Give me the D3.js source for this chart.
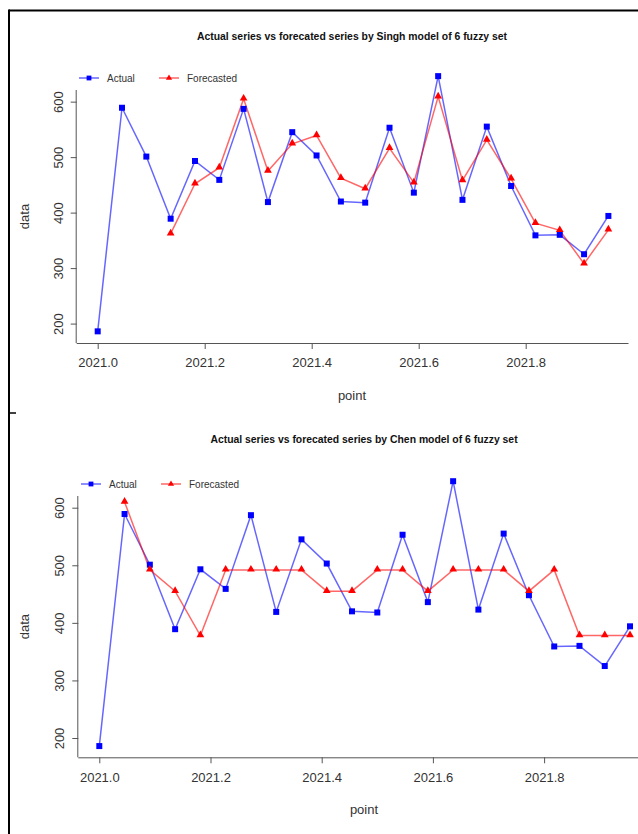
<!DOCTYPE html>
<html>
<head>
<meta charset="utf-8">
<script src="https://cdn.jsdelivr.net/npm/d3@7/dist/d3.min.js"></script>
<style>
  html, body { margin: 0; padding: 0; background: #fff; }
  svg { display: block; font-family: "Liberation Sans", Arial, sans-serif; }
</style>
</head>
<body>
<svg id="chart" width="638" height="834"></svg>
<script>
"use strict";

// monthly-ish series, ts(start = 2021, frequency = 22)
const tsStart = 2021;
const tsFrequency = 22;

const actual = [186, 589, 501, 389, 493, 459, 587, 419, 545, 503, 420,
                418, 553, 436, 646, 423, 555, 448, 359, 360, 325, 394];

// Singh model forecasts (first three points have no forecast)
const singhForecast = [null, null, null, 362, 452, 481, 605, 475, 524, 539, 462,
                       443, 516, 454, 609, 458, 531, 461, 381, 368, 308, 369];

// Chen model forecasts (first point has no forecast)
const chenForecast = [null, 610, 492, 455, 378, 492, 492, 492, 492, 455, 455,
                      492, 492, 455, 492, 492, 492, 455, 492, 378, 378, 378];

const xTicks = [2021.0, 2021.2, 2021.4, 2021.6, 2021.8];
const yTicks = [200, 300, 400, 500, 600];
const legendLabels = ['Actual', 'Forecasted'];

const titles = [
  'Actual series vs forecated series by Singh model of 6 fuzzy set',
  'Actual series vs forecated series by Chen model of 6 fuzzy set'
];

const times = actual.map((_, i) => tsStart + i / tsFrequency);

const svg = d3.select('#chart');

// outer frame bits of the pasted screenshot
svg.append('line').attr('x1', 9).attr('x2', 638).attr('y1', 10.5).attr('y2', 10.5)
   .attr('stroke', '#000').attr('stroke-width', 2);
svg.append('line').attr('x1', 9).attr('x2', 9).attr('y1', 9.5).attr('y2', 834)
   .attr('stroke', '#000').attr('stroke-width', 2);
svg.append('line').attr('x1', 8).attr('x2', 16).attr('y1', 413).attr('y2', 413)
   .attr('stroke', '#000').attr('stroke-width', 1.5);

function drawPanel( p ) {

  const x = d3.scaleLinear()
              .domain([ tsStart, tsStart + 1 ])
              .range([ p.x0, p.x0 + p.unit ]);

  const y = d3.scaleLinear()
              .domain( p.yDomain )
              .range([ p.bottom, p.top ]);

  const g = svg.append('g');

  // title
  g.append('text')
     .attr('x', p.titleX).attr('y', p.titleY)
     .attr('text-anchor', 'middle')
     .attr('font-size', '10.4px').attr('font-weight', 'bold')
     .attr('fill', '#111')
     .text( p.title );

  // x-axis
  const xAxis = d3.axisBottom(x)
                  .tickValues( xTicks )
                  .tickFormat( d3.format('.1f') )
                  .tickSize( 6 ).tickPadding( 9 );
  const gx = g.append('g')
              .attr('transform', 'translate(0,' + p.bottom + ')')
              .call( xAxis );
  gx.select('.domain').attr('d', 'M' + p.left + ',0.5H' + p.right);

  // y-axis
  const yAxis = d3.axisLeft(y)
                  .tickValues( yTicks )
                  .tickSize( 6 ).tickPadding( 9 );
  const gy = g.append('g')
              .attr('transform', 'translate(' + p.left + ',0)')
              .call( yAxis );
  gy.select('.domain').attr('d', 'M-0.5,' + p.top + 'V' + p.bottom);
  gy.selectAll('.tick text')
      .attr('x', null).attr('dy', null)
      .attr('transform', 'translate(-14,0) rotate(-90)')
      .attr('text-anchor', 'middle');

  [gx, gy].forEach( (a) => {
    a.attr('font-family', null).attr('font-size', '13px');
    a.selectAll('path, line').attr('stroke', '#555');
    a.selectAll('text').attr('fill', '#333');
  });

  // axis titles
  g.append('text')
     .attr('x', p.titleX).attr('y', p.bottom + 57)
     .attr('text-anchor', 'middle').attr('font-size', '13px').attr('fill', '#333')
     .text('point');
  g.append('text')
     .attr('transform', 'translate(29,' + ((p.top + p.bottom) / 2) + ') rotate(-90)')
     .attr('text-anchor', 'middle').attr('font-size', '13px').attr('fill', '#333')
     .text('data');

  const line = d3.line()
                 .defined( (d) => d.v !== null )
                 .x( (d) => x( d.t ) )
                 .y( (d) => y( d.v ) );

  const actualPts   = actual.map( (v, i) => ({ t: times[i], v: v }) );
  const forecastPts = p.forecast.map( (v, i) => ({ t: times[i], v: v }) )
                         .filter( (d) => d.v !== null );

  // actual series
  g.append('path')
     .datum( actualPts )
     .attr('d', line)
     .attr('fill', 'none').attr('stroke', 'rgba(0,0,255,0.6)').attr('stroke-width', 1.5);

  // forecast series
  g.append('path')
     .datum( forecastPts )
     .attr('d', line)
     .attr('fill', 'none').attr('stroke', 'rgba(255,0,0,0.6)').attr('stroke-width', 1.5);

  const square   = d3.symbol().type( d3.symbolSquare ).size( 36 );
  const triangle = d3.symbol().type( d3.symbolTriangle ).size( 26 );

  g.selectAll('.sq')
     .data( actualPts )
     .enter().append('path')
       .attr('class', 'sq')
       .attr('transform', (d) => 'translate(' + x(d.t) + ',' + y(d.v) + ')')
       .attr('d', square)
       .attr('fill', '#0000ff');

  g.selectAll('.tri')
     .data( forecastPts )
     .enter().append('path')
       .attr('class', 'tri')
       .attr('transform', (d) => 'translate(' + x(d.t) + ',' + (y(d.v) - 0.5) + ')')
       .attr('d', triangle)
       .attr('fill', '#ff0000');

  // legend
  const lg = g.append('g').attr('transform', 'translate(' + p.legendX + ',' + p.legendY + ')');
  const legendItems = [
    { label: legendLabels[0], color: 'rgba(0,0,255,0.6)', fill: '#0000ff', sym: square,   dx: 0 },
    { label: legendLabels[1], color: 'rgba(255,0,0,0.6)', fill: '#ff0000', sym: triangle, dx: 80 }
  ];
  legendItems.forEach( (it) => {
    lg.append('line')
       .attr('x1', it.dx).attr('x2', it.dx + 20).attr('y1', 0).attr('y2', 0)
       .attr('stroke', it.color).attr('stroke-width', 1.5);
    lg.append('path')
       .attr('transform', 'translate(' + (it.dx + 10) + ',0) scale(0.8)')
       .attr('d', it.sym)
       .attr('fill', it.fill);
    lg.append('text')
       .attr('x', it.dx + 28).attr('y', 3.5)
       .attr('font-size', '10px').attr('fill', '#333')
       .text( it.label );
  });
}

// Singh panel
drawPanel({
  title: titles[0], titleX: 352, titleY: 40,
  forecast: singhForecast,
  x0: 97.7, unit: 535,
  left: 76.7, right: 628.5,
  top: 90, bottom: 343,
  yDomain: [165, 621],
  legendX: 79, legendY: 78
});

// Chen panel
drawPanel({
  title: titles[1], titleX: 364, titleY: 443,
  forecast: chenForecast,
  x0: 99.3, unit: 556,
  left: 78.3, right: 638,
  top: 496, bottom: 757.3,
  yDomain: [166.5, 620.3],
  legendX: 81, legendY: 484
});
</script>
</body>
</html>
